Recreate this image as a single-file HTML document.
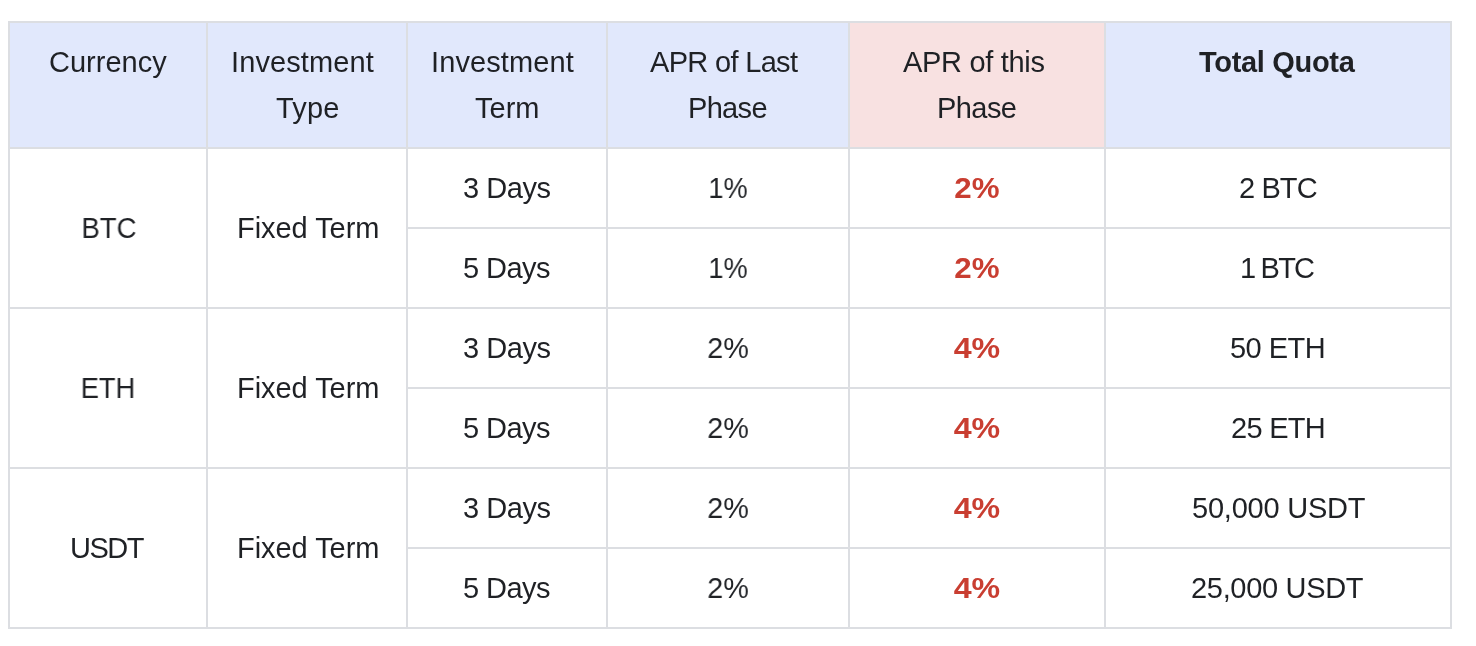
<!DOCTYPE html>
<html>
<head>
<meta charset="utf-8">
<style>
html,body{margin:0;padding:0;background:#fff;}
body{width:1476px;height:646px;overflow:hidden;position:relative;font-family:"Liberation Sans",sans-serif;}
table{position:absolute;left:8px;top:21px;border-collapse:collapse;table-layout:fixed;font-size:29px;line-height:46px;color:#1f2125;}
th,td{border:2px solid #dcdee2;padding:16px 0;text-align:center;box-sizing:border-box;white-space:nowrap;}
th{background:#e1e8fc;font-weight:normal;vertical-align:top;}
th.p{background:#f8e1e1;}
th.b{font-weight:bold;}
td{vertical-align:middle;height:80px;}
td.r{color:#c93e31;font-weight:bold;}
.t{position:relative;display:inline-block;will-change:transform;}
</style>
</head>
<body>
<table>
<colgroup><col style="width:198px"><col style="width:200px"><col style="width:200px"><col style="width:242px"><col style="width:256px"><col style="width:346px"></colgroup>
<tr><th><span class="t" style="letter-spacing:0.000px;left:0.00px;top:0.00px">Currency</span></th><th><span class="t" style="letter-spacing:0.100px;left:-4.45px;top:0.00px">Investment</span><br><span class="t" style="letter-spacing:0.150px;left:0.83px;top:0.00px">Type</span></th><th><span class="t" style="letter-spacing:0.100px;left:-4.45px;top:0.00px">Investment</span><br><span class="t" style="letter-spacing:0.000px;left:0.00px;top:0.00px">Term</span></th><th><span class="t" style="letter-spacing:-0.675px;left:-4.59px;top:0.00px">APR of Last</span><br><span class="t" style="letter-spacing:-0.675px;left:-0.84px;top:0.00px">Phase</span></th><th class="p"><span class="t" style="letter-spacing:-0.315px;left:-3.41px;top:0.00px">APR of this</span><br><span class="t" style="letter-spacing:-0.562px;left:-0.53px;top:0.00px">Phase</span></th><th class="b"><span class="t" style="letter-spacing:-0.315px;left:-0.91px;top:0.00px">Total Quota</span></th></tr>
<tr><td rowspan="2"><span class="t" style="transform:scaleX(0.9501);left:0.50px;top:0.00px">BTC</span></td><td rowspan="2"><span class="t" style="letter-spacing:-0.050px;left:0.73px;top:0.00px">Fixed Term</span></td><td><span class="t" style="letter-spacing:-0.450px;left:0.03px;top:0.00px">3 Days</span></td><td><span class="t" style="transform:scaleX(0.9314);left:-0.50px;top:0.00px">1%</span></td><td class="r"><span class="t" style="transform:scaleX(1.0792);left:0.25px;top:0.00px">2%</span></td><td><span class="t" style="letter-spacing:-0.900px;left:0.05px;top:0.00px">2 BTC</span></td></tr>
<tr><td><span class="t" style="letter-spacing:-0.540px;left:-0.27px;top:0.00px">5 Days</span></td><td><span class="t" style="transform:scaleX(0.9314);left:-0.50px;top:0.00px">1%</span></td><td class="r"><span class="t" style="transform:scaleX(1.0792);left:0.25px;top:0.00px">2%</span></td><td><span class="t" style="letter-spacing:-1.800px;left:-1.40px;top:0.00px">1 BTC</span></td></tr>
<tr><td rowspan="2"><span class="t" style="transform:scaleX(0.9422);left:0.25px;top:0.00px">ETH</span></td><td rowspan="2"><span class="t" style="letter-spacing:-0.050px;left:0.73px;top:0.00px">Fixed Term</span></td><td><span class="t" style="letter-spacing:-0.450px;left:0.03px;top:0.00px">3 Days</span></td><td><span class="t" style="transform:scaleX(0.9888);left:-0.25px;top:0.00px">2%</span></td><td class="r"><span class="t" style="transform:scaleX(1.1096);left:-0.50px;top:0.00px">4%</span></td><td><span class="t" style="letter-spacing:-0.540px;left:-0.27px;top:0.00px">50 ETH</span></td></tr>
<tr><td><span class="t" style="letter-spacing:-0.540px;left:-0.27px;top:0.00px">5 Days</span></td><td><span class="t" style="transform:scaleX(0.9888);left:-0.25px;top:0.00px">2%</span></td><td class="r"><span class="t" style="transform:scaleX(1.1096);left:-0.50px;top:0.00px">4%</span></td><td><span class="t" style="letter-spacing:-0.720px;left:-0.36px;top:0.00px">25 ETH</span></td></tr>
<tr><td rowspan="2"><span class="t" style="letter-spacing:-1.500px;left:-1.75px;top:0.00px">USDT</span></td><td rowspan="2"><span class="t" style="letter-spacing:-0.050px;left:0.73px;top:0.00px">Fixed Term</span></td><td><span class="t" style="letter-spacing:-0.450px;left:0.03px;top:0.00px">3 Days</span></td><td><span class="t" style="transform:scaleX(0.9888);left:-0.25px;top:0.00px">2%</span></td><td class="r"><span class="t" style="transform:scaleX(1.1096);left:-0.50px;top:0.00px">4%</span></td><td><span class="t" style="letter-spacing:-0.225px;left:0.14px;top:0.00px">50,000 USDT</span></td></tr>
<tr><td><span class="t" style="letter-spacing:-0.540px;left:-0.27px;top:0.00px">5 Days</span></td><td><span class="t" style="transform:scaleX(0.9888);left:-0.25px;top:0.00px">2%</span></td><td class="r"><span class="t" style="transform:scaleX(1.1096);left:-0.50px;top:0.00px">4%</span></td><td><span class="t" style="letter-spacing:-0.315px;left:-0.41px;top:0.00px">25,000 USDT</span></td></tr>
</table>
</body>
</html>
